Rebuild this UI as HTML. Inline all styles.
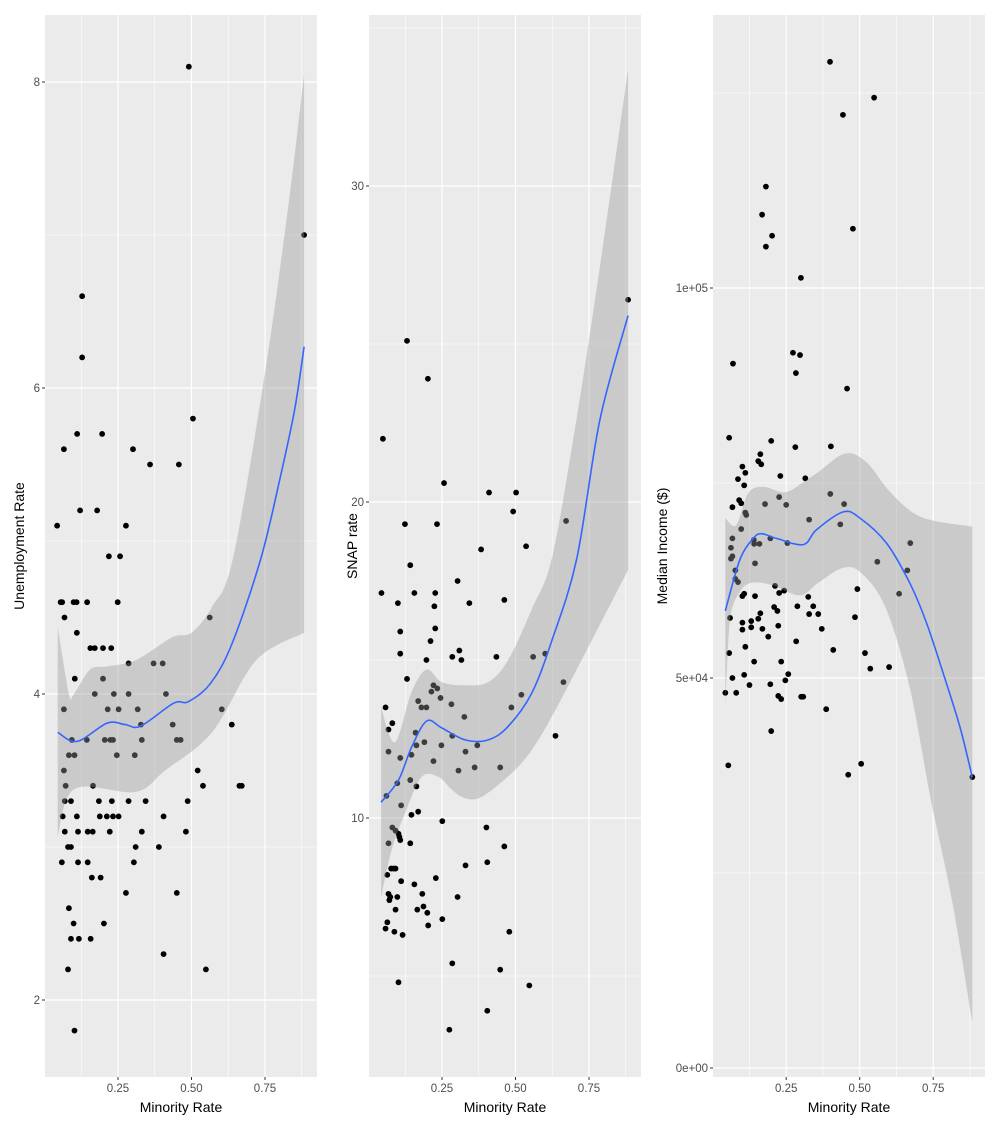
<!DOCTYPE html>
<html><head><meta charset="utf-8"><style>
html,body{margin:0;padding:0;background:#fff;}
svg{display:block;font-family:"Liberation Sans",Arial,sans-serif;}
</style></head><body>
<svg id="chart" width="1000" height="1128" viewBox="0 0 1000 1128" xmlns="http://www.w3.org/2000/svg"></svg>
<script>
// ---------- Panel 1: Unemployment Rate ----------
const unempX = [0.055,0.060,0.099,0.109,0.145,0.249,0.068,0.562,0.110,0.156,0.171,0.199,0.227,0.286,0.371,0.402,0.103,0.199,0.171,0.236,0.286,0.413,0.066,0.215,0.252,0.317,0.603,0.328,0.436,0.637,0.093,0.144,0.205,0.224,0.233,0.331,0.450,0.463,0.083,0.102,0.246,0.307,0.066,0.521,0.072,0.165,0.539,0.663,0.671,0.069,0.090,0.185,0.229,0.286,0.344,0.487,0.062,0.110,0.188,0.212,0.233,0.252,0.405,0.069,0.114,0.147,0.164,0.222,0.331,0.481,0.080,0.090,0.310,0.389,0.059,0.114,0.147,0.304,0.161,0.191,0.277,0.450,0.083,0.099,0.202,0.090,0.117,0.157,0.405,0.080,0.549,0.102,0.043,0.066,0.111,0.128,0.128,0.121,0.196,0.179,0.301,0.359,0.277,0.219,0.257,0.457,0.505,0.491,0.883];
const unempY = [4.6,4.6,4.6,4.6,4.6,4.6,4.5,4.5,4.4,4.3,4.3,4.3,4.3,4.2,4.2,4.2,4.1,4.1,4.0,4.0,4.0,4.0,3.9,3.9,3.9,3.9,3.9,3.8,3.8,3.8,3.7,3.7,3.7,3.7,3.7,3.7,3.7,3.7,3.6,3.6,3.6,3.6,3.5,3.5,3.4,3.4,3.4,3.4,3.4,3.3,3.3,3.3,3.3,3.3,3.3,3.3,3.2,3.2,3.2,3.2,3.2,3.2,3.2,3.1,3.1,3.1,3.1,3.1,3.1,3.1,3.0,3.0,3.0,3.0,2.9,2.9,2.9,2.9,2.8,2.8,2.7,2.7,2.6,2.5,2.5,2.4,2.4,2.4,2.3,2.2,2.2,1.8,5.1,5.6,5.7,6.6,6.2,5.2,5.7,5.2,5.6,5.5,5.1,4.9,4.9,5.5,5.8,8.1,7.0];
const unempFitX = [0.045,0.111,0.213,0.275,0.327,0.439,0.490,0.565,0.638,0.735,0.800,0.850,0.883];
const unempFitY = [3.75,3.69,3.81,3.80,3.79,3.94,3.95,4.07,4.33,4.88,5.40,5.85,6.27];
const unempLoX = [0.045,0.103,0.310,0.410,0.570,0.720,0.883];
const unempLoY = [3.07,3.38,3.36,3.50,3.75,4.22,4.40];
const unempHiX = [0.045,0.083,0.100,0.155,0.210,0.310,0.434,0.500,0.570,0.640,0.750,0.830,0.883];
const unempHiY = [4.44,4.00,4.00,4.16,4.18,4.22,4.37,4.40,4.57,4.88,6.10,7.20,8.05];
const unempTicks = [2,4,6,8];
const unempTickLabels = ["2","4","6","8"];
const unempMinor = [3,5,7];

// ---------- Panel 2: SNAP rate ----------
const snapX = [0.142,0.044,0.156,0.227,0.100,0.224,0.303,0.343,0.462,0.108,0.227,0.211,0.108,0.197,0.285,0.309,0.316,0.435,0.560,0.601,0.131,0.221,0.234,0.214,0.245,0.169,0.282,0.180,0.197,0.058,0.486,0.520,0.663,0.326,0.081,0.068,0.160,0.285,0.636,0.163,0.190,0.248,0.370,0.068,0.330,0.146,0.108,0.221,0.306,0.361,0.448,0.098,0.142,0.163,0.061,0.111,0.146,0.169,0.251,0.081,0.092,0.102,0.105,0.108,0.401,0.068,0.142,0.462,0.330,0.404,0.077,0.085,0.092,0.064,0.111,0.156,0.229,0.068,0.183,0.098,0.074,0.071,0.303,0.092,0.166,0.187,0.200,0.251,0.064,0.058,0.088,0.116,0.203,0.479,0.285,0.448,0.102,0.547,0.404,0.275,0.049,0.131,0.202,0.257,0.410,0.502,0.492,0.124,0.233,0.383,0.536,0.672,0.883];
const snapY = [18.0,17.12,17.12,17.12,16.8,16.7,17.5,16.8,16.9,15.9,16.0,15.6,15.2,15.0,15.1,15.3,15.0,15.1,15.1,15.2,14.4,14.2,14.1,14.0,13.8,13.7,13.6,13.5,13.5,13.5,13.5,13.9,14.3,13.2,13.0,12.8,12.7,12.6,12.6,12.3,12.4,12.3,12.3,12.1,12.1,12.0,11.9,11.8,11.5,11.6,11.6,11.1,11.2,11.0,10.7,10.4,10.1,10.2,9.9,9.7,9.6,9.5,9.4,9.3,9.7,9.2,9.2,9.1,8.5,8.6,8.4,8.4,8.4,8.2,8.0,7.9,8.1,7.6,7.6,7.5,7.5,7.4,7.5,7.1,7.1,7.2,7.0,6.8,6.7,6.5,6.4,6.3,6.6,6.4,5.4,5.2,4.8,4.7,3.9,3.3,22.0,25.1,23.9,20.6,20.3,20.3,19.7,19.3,19.3,18.5,18.6,19.4,26.4];
const snapFitX = [0.043,0.102,0.147,0.198,0.249,0.329,0.407,0.475,0.555,0.623,0.708,0.787,0.883];
const snapFitY = [10.5,11.2,12.25,13.07,12.85,12.47,12.47,12.9,13.95,15.6,18.2,22.6,25.9];
const snapLoX = [0.043,0.079,0.124,0.181,0.238,0.283,0.328,0.385,0.487,0.555,0.623,0.725,0.883];
const snapLoY = [7.5,9.0,10.15,11.3,11.3,10.9,10.63,10.67,11.42,12.15,13.2,15.0,17.85];
const snapHiX = [0.043,0.090,0.147,0.198,0.249,0.328,0.407,0.475,0.555,0.623,0.700,0.780,0.883];
const snapHiY = [13.5,12.4,14.0,14.7,14.3,14.2,14.3,15.0,16.6,18.2,22.2,27.0,33.7];
const snapTicks = [10,20,30];
const snapTickLabels = ["10","20","30"];
const snapMinor = [5,15,25,35];

// ---------- Panel 3: Median Income (thousands $) ----------
const incomeX = [0.056,0.199,0.281,0.402,0.162,0.155,0.165,0.101,0.111,0.086,0.107,0.230,0.315,0.090,0.097,0.067,0.178,0.226,0.250,0.400,0.447,0.111,0.114,0.328,0.434,0.097,0.067,0.196,0.140,0.141,0.159,0.254,0.672,0.062,0.067,0.062,0.144,0.560,0.077,0.662,0.077,0.086,0.212,0.492,0.243,0.226,0.101,0.107,0.144,0.325,0.634,0.209,0.220,0.288,0.342,0.328,0.359,0.162,0.155,0.059,0.484,0.101,0.131,0.101,0.131,0.169,0.223,0.371,0.189,0.111,0.284,0.410,0.518,0.056,0.141,0.233,0.536,0.600,0.067,0.107,0.257,0.247,0.125,0.196,0.043,0.080,0.223,0.233,0.301,0.308,0.386,0.199,0.053,0.505,0.461,0.883,0.399,0.549,0.443,0.181,0.168,0.202,0.181,0.477,0.300,0.273,0.297,0.283,0.069,0.457];
const incomeY = [80.8,80.4,79.6,79.7,78.7,77.8,77.4,77.1,76.3,75.5,74.7,75.9,75.6,72.8,72.4,71.9,72.3,73.2,72.2,73.6,72.3,71.2,70.9,70.3,69.7,69.1,67.9,67.9,67.7,67.2,67.2,67.3,67.3,66.7,65.6,65.3,64.7,64.9,63.8,63.8,62.7,62.3,61.8,61.4,61.2,60.9,60.5,60.8,60.5,60.4,60.8,59.1,58.6,59.2,59.2,58.2,58.2,58.3,57.6,57.7,57.8,57.1,57.3,56.2,56.5,56.3,56.7,56.3,55.3,54.0,54.7,53.6,53.2,53.2,52.1,52.1,51.2,51.4,50.0,50.4,50.5,49.7,49.1,49.2,48.1,48.1,47.7,47.3,47.6,47.6,46.0,43.2,38.8,39.0,37.6,37.3,129.0,124.4,122.2,113.0,109.4,106.7,105.3,107.6,101.3,91.7,91.4,89.1,90.3,87.1];
const incomeFitX = [0.043,0.092,0.138,0.166,0.217,0.308,0.353,0.444,0.501,0.591,0.670,0.727,0.784,0.841,0.883];
const incomeFitY = [58.6,65.1,67.9,68.5,67.9,67.1,69.0,71.3,70.5,67.3,62.2,57.1,50.6,43.7,37.3];
const incomeLoX = [0.043,0.059,0.090,0.132,0.204,0.297,0.359,0.442,0.504,0.587,0.670,0.742,0.814,0.883];
const incomeLoY = [46.5,57.4,60.9,62.2,61.9,60.6,62.2,64.1,63.5,59.1,48.8,34.4,21.5,5.9];
const incomeHiX = [0.043,0.080,0.121,0.173,0.245,0.308,0.359,0.452,0.525,0.607,0.711,0.883];
const incomeHiY = [70.5,69.6,73.7,74.5,73.8,75.1,76.4,78.8,77.6,73.7,70.6,69.4];
const incomeTicks = [0,50,100];
const incomeTickLabels = ["0e+00","5e+04","1e+05"];
const incomeMinor = [25,75,125];

const xTicks = [0.25,0.5,0.75];
const xTickLabels = ["0.25","0.50","0.75"];
const xMinor = [0.125,0.375,0.625,0.875];

const NS = "http://www.w3.org/2000/svg";
const svg = document.getElementById("chart");
function mk(tag, attrs, parent){
  const e = document.createElementNS(NS, tag);
  for (const k in attrs) e.setAttribute(k, attrs[k]);
  (parent||svg).appendChild(e);
  return e;
}
// Catmull-Rom spline through points, returns path segments (without leading M)
function spline(pts){
  let d = "";
  for (let i=0;i<pts.length-1;i++){
    const p0 = pts[Math.max(0,i-1)], p1 = pts[i], p2 = pts[i+1], p3 = pts[Math.min(pts.length-1,i+2)];
    const c1x = p1[0]+(p2[0]-p0[0])/6, c1y = p1[1]+(p2[1]-p0[1])/6;
    const c2x = p2[0]-(p3[0]-p1[0])/6, c2y = p2[1]-(p3[1]-p1[1])/6;
    d += " C"+c1x.toFixed(1)+","+c1y.toFixed(1)+" "+c2x.toFixed(1)+","+c2y.toFixed(1)+" "+p2[0].toFixed(1)+","+p2[1].toFixed(1);
  }
  return d;
}
const TOP = 15, BOTTOM = 1077;

function panel(cfg){
  const g = mk("g", {});
  
  
  const L = cfg.left, R = cfg.right;
  const sx = v => cfg.x0 + v * 294;
  const sy = v => cfg.yRef + (cfg.yRefVal - v) * cfg.yScale;
  const bg = mk("rect", {x:L, y:TOP, width:R-L, height:BOTTOM-TOP, fill:"#EBEBEB"}, g);
  
  
  cfg.yMinor.forEach(v => { const y=sy(v); if(y>TOP&&y<BOTTOM) mk("line",{x1:L,x2:R,y1:y,y2:y,stroke:"#fff","stroke-width":0.6},g); });
  xMinor.forEach(v => { const x=sx(v); if(x>L&&x<R) mk("line",{x1:x,x2:x,y1:TOP,y2:BOTTOM,stroke:"#fff","stroke-width":0.6},g); });
  cfg.yTicks.forEach((v,i) => {
    const y = sy(v);
    mk("line",{x1:L,x2:R,y1:y,y2:y,stroke:"#fff","stroke-width":1.2},g);
    mk("line",{x1:L-3,x2:L,y1:y,y2:y,stroke:"#333","stroke-width":1},g);
    const t = mk("text",{x:L-5,y:y+4,"text-anchor":"end","font-size":"11.5px",fill:"#4D4D4D"},g);
    t.textContent = cfg.yTickLabels[i];
    
    
  });
  xTicks.forEach((v,i) => {
    const x = sx(v);
    mk("line",{x1:x,x2:x,y1:TOP,y2:BOTTOM,stroke:"#fff","stroke-width":1.2},g);
    mk("line",{x1:x,x2:x,y1:BOTTOM,y2:BOTTOM+3,stroke:"#333","stroke-width":1},g);
    const t = mk("text",{x:x,y:BOTTOM+15,"text-anchor":"middle","font-size":"11.5px",fill:"#4D4D4D"},g);
    t.textContent = xTickLabels[i];
    
    
  });
  const cp = mk("clipPath",{id:"clip-"+cfg.name},g);
  mk("rect",{x:L,y:TOP,width:R-L,height:BOTTOM-TOP},cp);
  const inner = mk("g",{"clip-path":"url(#clip-"+cfg.name+")"},g);
  cfg.px.forEach((v,i) => {
    const c = mk("circle",{cx:sx(v),cy:sy(cfg.py[i]),r:2.9,fill:"#000"},inner);
    
    
  });
  const hi = cfg.hiX.map((v,i)=>[sx(v), sy(cfg.hiY[i])]);
  const lo = cfg.loX.map((v,i)=>[sx(v), sy(cfg.loY[i])]).reverse();
  let d = "M"+hi[0][0].toFixed(1)+","+hi[0][1].toFixed(1) + spline(hi)
        + " L"+lo[0][0].toFixed(1)+","+lo[0][1].toFixed(1) + spline(lo) + " Z";
  const band = mk("path",{d:d,fill:"#999999","fill-opacity":0.4,stroke:"none"},inner);
  
  
  const fp = cfg.fitX.map((v,i)=>[sx(v), sy(cfg.fitY[i])]);
  const ld = "M"+fp[0][0].toFixed(1)+","+fp[0][1].toFixed(1) + spline(fp);
  const line = mk("path",{d:ld,fill:"none",stroke:"#3366FF","stroke-width":1.6},inner);
  
  
  const xt = mk("text",{x:(L+R)/2,y:1112,"text-anchor":"middle","font-size":"14px",fill:"#000"},g);
  xt.textContent = "Minority Rate";
  
  
  const yt = mk("text",{x:0,y:0,"text-anchor":"middle","font-size":"14px",fill:"#000",transform:"translate("+cfg.yTitleX+","+((TOP+BOTTOM)/2)+") rotate(-90)"},g);
  yt.textContent = cfg.yTitle;
  
  
}

panel({name:"unemployment", left:45, right:317, x0:44.5, yRef:694, yRefVal:4, yScale:153,
  yTicks:unempTicks, yTickLabels:unempTickLabels, yMinor:unempMinor,
  px:unempX, py:unempY, fitX:unempFitX, fitY:unempFitY, loX:unempLoX, loY:unempLoY, hiX:unempHiX, hiY:unempHiY,
  yTitle:"Unemployment Rate", yTitleX:24});
panel({name:"snap", left:369, right:641, x0:368.5, yRef:818, yRefVal:10, yScale:31.6,
  yTicks:snapTicks, yTickLabels:snapTickLabels, yMinor:snapMinor,
  px:snapX, py:snapY, fitX:snapFitX, fitY:snapFitY, loX:snapLoX, loY:snapLoY, hiX:snapHiX, hiY:snapHiY,
  yTitle:"SNAP rate", yTitleX:357});
panel({name:"income", left:713, right:985, x0:712.7, yRef:1068, yRefVal:0, yScale:7.8,
  yTicks:incomeTicks, yTickLabels:incomeTickLabels, yMinor:incomeMinor,
  px:incomeX, py:incomeY, fitX:incomeFitX, fitY:incomeFitY, loX:incomeLoX, loY:incomeLoY, hiX:incomeHiX, hiY:incomeHiY,
  yTitle:"Median Income ($)", yTitleX:667});
</script>
</body></html>
